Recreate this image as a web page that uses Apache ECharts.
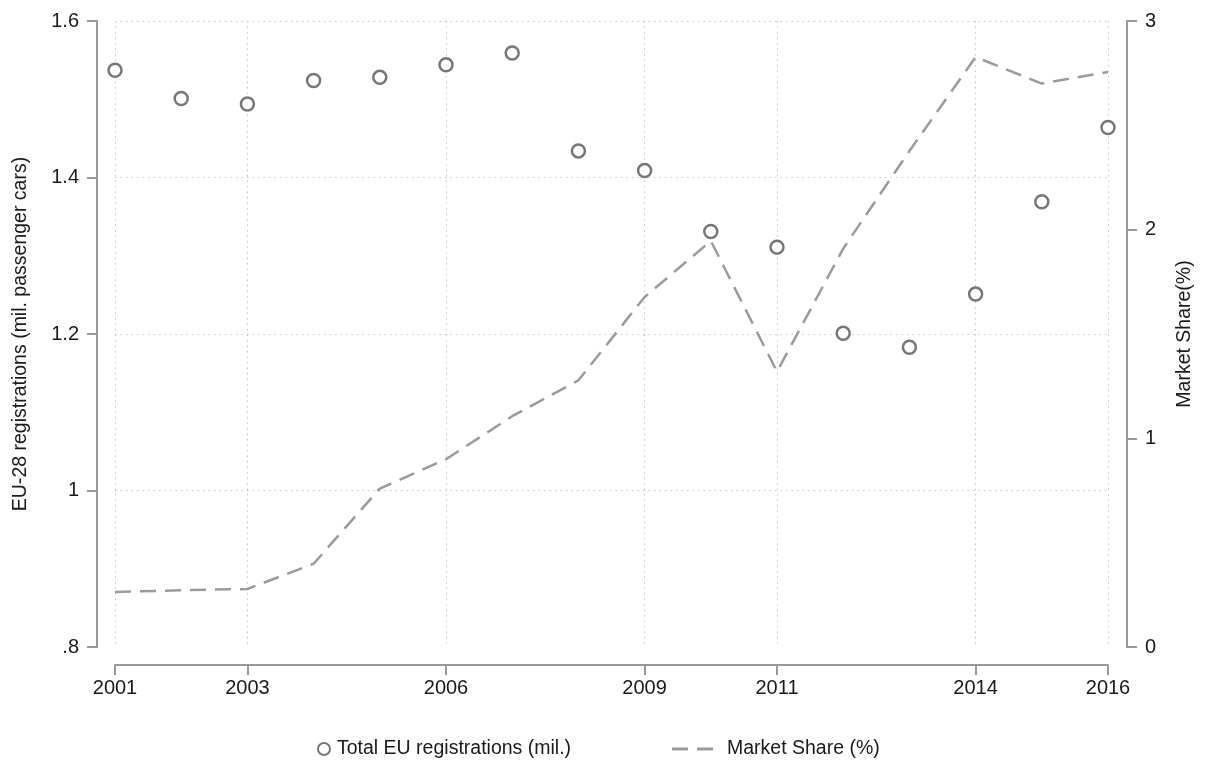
<!DOCTYPE html>
<html>
<head>
<meta charset="utf-8">
<title>EU-28 registrations and market share</title>
<script src="https://cdn.jsdelivr.net/npm/echarts@6/dist/echarts.min.js"></script>
<style>
  html, body { margin: 0; padding: 0; background: #fff; }
  #chart { width: 1205px; height: 769px; }
</style>
</head>
<body>
<div id="chart"></div>
<script>
// Years on the horizontal axis
const years = ['2001','2002','2003','2004','2005','2006','2007','2008',
               '2009','2010','2011','2012','2013','2014','2015','2016'];
// Years that get a tick, a label and a vertical grid line
const tickYears = ['2001','2003','2006','2009','2011','2014','2016'];
// Total EU-28 registrations, million passenger cars (left axis)
const registrations = [1.537, 1.501, 1.494, 1.524, 1.528, 1.544, 1.559, 1.434,
                       1.409, 1.331, 1.311, 1.201, 1.183, 1.251, 1.369, 1.464];
// Market share in percent (right axis)
const marketShare = [0.264, 0.272, 0.278, 0.399, 0.759, 0.900, 1.106, 1.278,
                     1.677, 1.946, 1.320, 1.909, 2.377, 2.827, 2.700, 2.756];
// Tick labels of the left axis, from .8 up to 1.6
const leftTickLabels = ['.8', '1', '1.2', '1.4', '1.6'];
// Tick labels of the right axis, from 0 up to 3
const rightTickLabels = ['0', '1', '2', '3'];

const FONT = "'Liberation Sans', Arial, sans-serif";
const TEXT = '#1a1a1a';
const AXIS = '#9a9a9a';
const LINE = '#9b9b9b';
const GRID = { color: '#c4c4c4', width: 1, type: [1.5, 4] };

const chart = echarts.init(document.getElementById('chart'), null, { renderer: 'canvas' });

chart.setOption({
  animation: false,
  backgroundColor: '#ffffff',
  textStyle: { fontFamily: FONT, color: TEXT },
  grid: { left: 115, right: 97, top: 21, bottom: 122, containLabel: false },
  legend: [
    {
      data: ['Total EU registrations (mil.)'],
      left: 312, top: 734,
      icon: 'circle',
      itemWidth: 12, itemHeight: 12,
      itemStyle: { color: '#ffffff', borderColor: '#555555', borderWidth: 2 },
      textStyle: { fontFamily: FONT, fontSize: 19.5, color: TEXT, padding: [0, 0, 0, 2] },
      selectedMode: false
    },
    {
      data: ['Market Share (%)'],
      left: 667, top: 734,
      // two dashes, as drawn by the line series
      icon: 'path://M0,0H16V3H0Z M25,0H41V3H25Z',
      itemWidth: 41, itemHeight: 3,
      itemStyle: { color: LINE, borderWidth: 0 },
      textStyle: { fontFamily: FONT, fontSize: 19.5, color: TEXT, padding: [0, 0, 0, 9] },
      selectedMode: false
    }
  ],
  xAxis: {
    type: 'category',
    data: years,
    boundaryGap: false,
    offset: 18,
    axisLine: { show: true, onZero: false, lineStyle: { color: AXIS, width: 2 } },
    axisTick: {
      show: true, length: 10, lineStyle: { color: AXIS, width: 2 },
      interval: (i, v) => tickYears.includes(v)
    },
    axisLabel: {
      show: true, margin: 13, fontSize: 20, color: TEXT, fontFamily: FONT,
      interval: (i, v) => tickYears.includes(v)
    },
    splitLine: {
      show: true, lineStyle: GRID,
      interval: (i, v) => tickYears.includes(v)
    }
  },
  yAxis: [
    {
      type: 'value',
      position: 'left',
      min: 0.8, max: 1.6, interval: 0.2,
      offset: 18,
      name: 'EU-28 registrations (mil. passenger cars)',
      nameLocation: 'middle',
      nameRotate: 90,
      nameGap: 66,
      nameTextStyle: { fontFamily: FONT, fontSize: 19.5, color: TEXT },
      axisLine: { show: true, onZero: false, lineStyle: { color: AXIS, width: 2 } },
      axisTick: { show: true, length: 10, lineStyle: { color: AXIS, width: 2 } },
      axisLabel: {
        margin: 18, fontSize: 20, color: TEXT, fontFamily: FONT,
        formatter: v => leftTickLabels[Math.round((v - 0.8) / 0.2)]
      },
      splitLine: { show: true, showMinLine: false, lineStyle: GRID }
    },
    {
      type: 'value',
      position: 'right',
      min: 0, max: 3, interval: 1,
      offset: 19,
      name: 'Market Share(%)',
      nameLocation: 'middle',
      nameRotate: 90,
      nameGap: 48,
      nameTextStyle: { fontFamily: FONT, fontSize: 19.5, color: TEXT },
      axisLine: { show: true, onZero: false, lineStyle: { color: AXIS, width: 2 } },
      axisTick: { show: true, length: 10, lineStyle: { color: AXIS, width: 2 } },
      axisLabel: {
        margin: 18, fontSize: 20, color: TEXT, fontFamily: FONT,
        formatter: v => rightTickLabels[Math.round(v)]
      },
      splitLine: { show: false }
    }
  ],
  series: [
    {
      name: 'Market Share (%)',
      type: 'line',
      yAxisIndex: 1,
      data: marketShare,
      symbol: 'none',
      lineStyle: { color: LINE, width: 2.5, type: [16, 9] },
      itemStyle: { color: LINE },
      z: 2
    },
    {
      name: 'Total EU registrations (mil.)',
      type: 'scatter',
      yAxisIndex: 0,
      data: registrations,
      symbol: 'circle',
      symbolSize: 13,
      itemStyle: { color: '#ffffff', borderColor: '#555555', borderWidth: 2.5 },
      z: 3
    }
  ]
});
</script>
</body>
</html>
